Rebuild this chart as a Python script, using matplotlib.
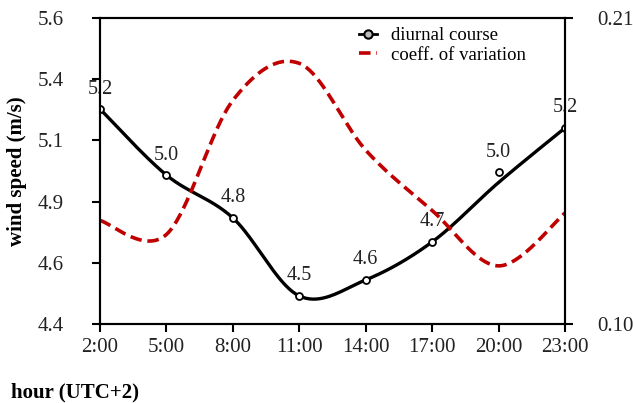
import numpy as np
import matplotlib.pyplot as plt
from matplotlib.ticker import FixedLocator, FormatStrFormatter

hours = ["2:00", "5:00", "8:00", "11:00", "14:00", "17:00", "20:00", "23:00"]
wind_points = [5.243, 4.984, 4.816, 4.510, 4.573, 4.722, 4.996, 5.169]
wind_curve = [5.243, 4.984, 4.816, 4.510, 4.573, 4.722, 4.955, 5.169]
wind_labels = ["5.2", "5.0", "4.8", "4.5", "4.6", "4.7", "5.0", "5.2"]
coeff_var = [0.1372, 0.1322, 0.1804, 0.1937, 0.1625, 0.1408, 0.1209, 0.1399]


def smooth(y, n=40):
    # excel-like smoothed line (catmull-rom as bezier)
    y = np.asarray(y, float)
    x = np.arange(len(y), dtype=float)
    px = np.concatenate([[x[0]], x, [x[-1]]])
    py = np.concatenate([[y[0]], y, [y[-1]]])
    t = np.linspace(0, 1, n)[:, None]
    xs, ys = [], []
    for i in range(len(y) - 1):
        p0 = np.array([px[i + 1], py[i + 1]])
        p3 = np.array([px[i + 2], py[i + 2]])
        c1 = p0 + (np.array([px[i + 2], py[i + 2]]) - np.array([px[i], py[i]])) / 6
        c2 = p3 - (np.array([px[i + 3], py[i + 3]]) - np.array([px[i + 1], py[i + 1]])) / 6
        b = (1 - t) ** 3 * p0 + 3 * (1 - t) ** 2 * t * c1 + 3 * (1 - t) * t ** 2 * c2 + t ** 3 * p3
        xs.append(b[:, 0])
        ys.append(b[:, 1])
    return np.concatenate(xs), np.concatenate(ys)


plt.rcParams["font.family"] = "Liberation Serif"
plt.rcParams["font.size"] = 15

fig = plt.figure(figsize=(6.33, 4.03), dpi=100)
ax = fig.add_axes([0.158, 0.196, 0.7346, 0.7593])
ax2 = ax.twinx()

x = np.arange(len(hours))

cx, cy = smooth(coeff_var)
ax2.plot(cx, cy, color="#C00000", lw=2.6, dashes=(3.2, 1.6), label="coeff. of variation")

wx, wy = smooth(wind_curve)
ax.plot(wx, wy, color="black", lw=2.4, zorder=3)
ax.plot(x, wind_points, "o", ms=5, mfc="white", mec="black", mew=1.3, zorder=4)

for xi, yi, lab in zip(x, wind_points, wind_labels):
    ax.annotate(lab, (xi, yi), xytext=(0, 20), textcoords="offset pixels",
                ha="center", va="center", fontsize=14.5, color="#222222")

ax.set_xlim(0, len(hours) - 1)
ax.set_ylim(4.4, 5.6)
ax.yaxis.set_major_locator(FixedLocator(np.linspace(4.4, 5.6, 6)))
ax.yaxis.set_major_formatter(FormatStrFormatter("%.1f"))
ax.set_xticks(x)
ax.set_xticklabels(hours)

ax2.set_ylim(0.10, 0.21)
ax2.set_yticks([0.10, 0.21])
ax2.yaxis.set_major_formatter(FormatStrFormatter("%.2f"))

for a in (ax, ax2):
    for s in a.spines.values():
        s.set_linewidth(1.5)
    a.tick_params(direction="out", length=6, width=1.5, labelsize=15, labelcolor="#222222")
ax.tick_params(axis="y", pad=20)
ax2.tick_params(axis="y", pad=17)
ax.tick_params(axis="x", pad=4)

ax.set_ylabel("wind speed (m/s)", fontweight="bold", fontsize=15, labelpad=8)
fig.text(0.018, 0.027, "hour (UTC+2)", fontweight="bold", fontsize=15, ha="left", va="center")

# legend
h1 = plt.Line2D([], [], color="black", lw=2, marker="o", ms=6, mfc="#BBBBBB", mec="black", mew=1.5)
h2 = plt.Line2D([], [], color="#C00000", lw=2.6, dashes=(3.2, 1.6))
ax.legend([h1, h2], ["diurnal course", "coeff. of variation"], loc="upper left",
          bbox_to_anchor=(0.52, 1.025), frameon=False, handlelength=1.0, handletextpad=0.7,
          labelspacing=0.12, fontsize=13.5)

fig.savefig("out.png", dpi=100)
